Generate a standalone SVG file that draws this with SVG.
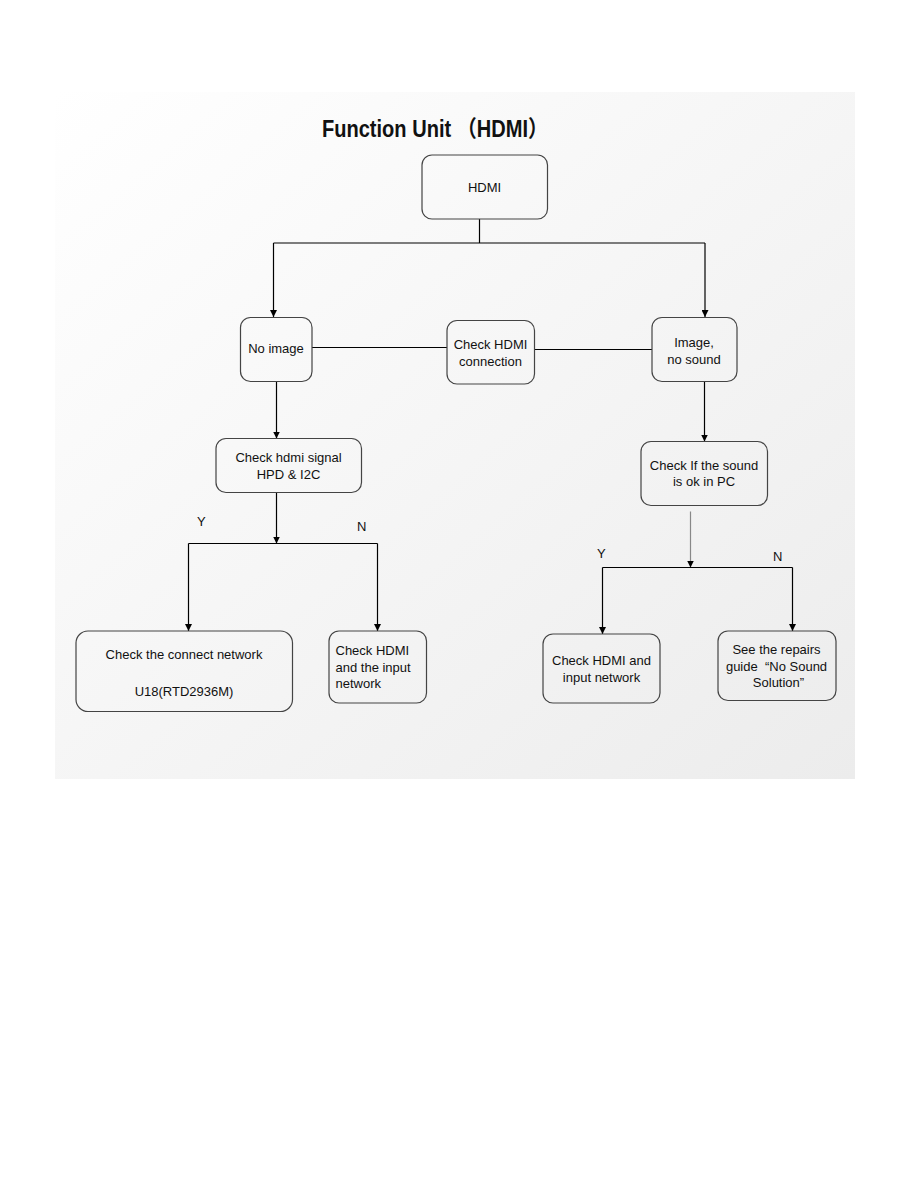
<svg xmlns="http://www.w3.org/2000/svg" width="918" height="1188" viewBox="0 0 918 1188">
  <defs>
    <linearGradient id="bg" x1="0" y1="0" x2="1" y2="1">
      <stop offset="0" stop-color="#ffffff"/>
      <stop offset="1" stop-color="#ececec"/>
    </linearGradient>
    <marker id="arr" viewBox="0 0 10 10" refX="10" refY="5" markerWidth="7" markerHeight="7" markerUnits="userSpaceOnUse" orient="auto">
      <path d="M0,0 L10,5 L0,10 z" fill="#000"/>
    </marker>
    <style>
      .box { fill: none; stroke: #444; stroke-width: 1.2; }
      .ln { fill: none; stroke: #000; stroke-width: 1.2; }
      .lg { fill: none; stroke: #888; stroke-width: 1.2; }
      .t { font-family: "Liberation Sans", Arial, sans-serif; font-size: 13px; fill: #111; text-anchor: middle; }
      .tl { font-family: "Liberation Sans", Arial, sans-serif; font-size: 13px; fill: #111; }
      .title { font-family: "Liberation Sans", "Noto Sans CJK SC", sans-serif; font-size: 23px; font-weight: bold; fill: #111; }
    </style>
  </defs>
  <rect width="918" height="1188" fill="#ffffff"/>
  <rect x="55" y="92" width="800" height="687" fill="url(#bg)"/>

  <text class="title" x="322" y="136.5" textLength="226" lengthAdjust="spacingAndGlyphs">Function Unit （HDMI）</text>

  <g id="connectors">
    <polyline class="ln" points="479.5,219 479.5,243"/>
    <polyline class="ln" points="273.5,243 705,243"/>
    <line class="ln" x1="273.5" y1="243" x2="273.5" y2="317" marker-end="url(#arr)"/>
    <line class="ln" x1="705" y1="243" x2="705" y2="317" marker-end="url(#arr)"/>
    <line class="ln" x1="312" y1="347.5" x2="447" y2="347.5"/>
    <line class="ln" x1="535" y1="349.5" x2="652" y2="349.5"/>
    <line class="ln" x1="276.5" y1="382" x2="276.5" y2="438.5" marker-end="url(#arr)"/>
    <line class="ln" x1="704.5" y1="382" x2="704.5" y2="441.5" marker-end="url(#arr)"/>
    <line class="ln" x1="276.5" y1="492.5" x2="276.5" y2="543.5" marker-end="url(#arr)"/>
    <polyline class="ln" points="188.5,543.5 377.5,543.5"/>
    <line class="ln" x1="188.5" y1="543.5" x2="188.5" y2="631" marker-end="url(#arr)"/>
    <line class="ln" x1="377.5" y1="543.5" x2="377.5" y2="631" marker-end="url(#arr)"/>
    <line class="lg" x1="690.5" y1="511.5" x2="690.5" y2="567.5" marker-end="url(#arr)"/>
    <polyline class="ln" points="602.5,567.5 792.5,567.5"/>
    <line class="ln" x1="602.5" y1="567.5" x2="602.5" y2="634" marker-end="url(#arr)"/>
    <line class="ln" x1="792.5" y1="567.5" x2="792.5" y2="631" marker-end="url(#arr)"/>
    <text class="tl" x="197" y="526">Y</text>
    <text class="tl" x="357" y="531">N</text>
    <text class="tl" x="597" y="558">Y</text>
    <text class="tl" x="773" y="561">N</text>
  </g>

  <g id="n-hdmi">
    <rect class="box" x="422" y="155" width="125.5" height="64" rx="10"/>
    <text class="t" x="484.5" y="192">HDMI</text>
  </g>
  <g id="n-noimage">
    <rect class="box" x="240.5" y="317.5" width="71.5" height="64" rx="10"/>
    <text class="t" x="276" y="353">No image</text>
  </g>
  <g id="n-checkconn">
    <rect class="box" x="447" y="320.5" width="87.5" height="63.5" rx="10"/>
    <text class="t" x="490.5" y="349">Check HDMI</text>
    <text class="t" x="490.5" y="366">connection</text>
  </g>
  <g id="n-imagenosound">
    <rect class="box" x="652" y="317.5" width="85" height="64" rx="10"/>
    <text class="t" x="694" y="347">Image,</text>
    <text class="t" x="694" y="363.5">no sound</text>
  </g>
  <g id="n-checksignal">
    <rect class="box" x="216" y="438.5" width="145.5" height="54" rx="10"/>
    <text class="t" x="288.5" y="461.5">Check hdmi signal</text>
    <text class="t" x="288.5" y="478.5">HPD &amp; I2C</text>
  </g>
  <g id="n-checkpc">
    <rect class="box" x="641" y="441.5" width="126.5" height="64" rx="10"/>
    <text class="t" x="704" y="469.5">Check If the sound</text>
    <text class="t" x="704" y="486">is ok in PC</text>
  </g>
  <g id="n-connectnet">
    <rect class="box" x="76" y="631" width="216.5" height="80.5" rx="12"/>
    <text class="t" x="184" y="659">Check the connect network</text>
    <text class="t" x="184" y="695.5">U18(RTD2936M)</text>
  </g>
  <g id="n-hdmiinput1">
    <rect class="box" x="329" y="631" width="97.5" height="72" rx="10"/>
    <text class="tl" x="335.5" y="655">Check HDMI</text>
    <text class="tl" x="335.5" y="671.5">and the input</text>
    <text class="tl" x="335.5" y="688">network</text>
  </g>
  <g id="n-hdmiinput2">
    <rect class="box" x="543" y="634" width="117" height="69" rx="10"/>
    <text class="t" x="601.5" y="665">Check HDMI and</text>
    <text class="t" x="601.5" y="681.5">input network</text>
  </g>
  <g id="n-repairs">
    <rect class="box" x="718" y="631" width="118" height="69.5" rx="10"/>
    <text class="t" x="776.5" y="654">See the repairs</text>
    <text class="t" x="776.5" y="670.5" xml:space="preserve">guide  “No Sound</text>
    <text class="t" x="778.5" y="687">Solution”</text>
  </g>
</svg>
